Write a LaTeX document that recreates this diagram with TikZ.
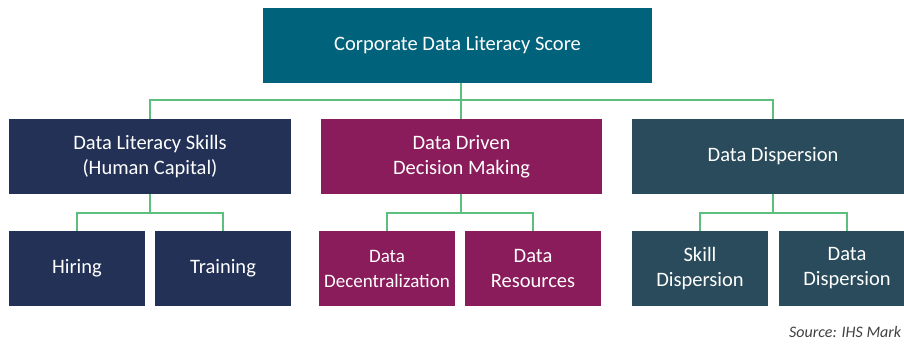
\documentclass[tikz,border=0pt]{standalone}
\usepackage{fontspec}
\setmainfont{Carlito}
\definecolor{topc}{HTML}{00627B}
\definecolor{navyc}{HTML}{233157}
\definecolor{magc}{HTML}{8A1C5B}
\definecolor{slatec}{HTML}{2A4B5B}
\definecolor{linec}{HTML}{5CBF7E}
\begin{document}
\begin{tikzpicture}[x=1pt,y=-1pt,
  box/.style={fill=#1, text=white, inner sep=0pt, align=center, font=\fontsize{20.5}{25}\selectfont},
  conn/.style={draw=linec, line width=1.3pt}]
\useasboundingbox (0,0) rectangle (904,343);
\clip (0,0) rectangle (904,343);
% top
\node[box=topc, minimum width=389pt, minimum height=75pt] (top) at (457.5,45) {Corporate Data Literacy Score};
% level 1
\node[box=navyc, minimum width=282pt, minimum height=75pt] (a) at (150,156.5) {Data Literacy Skills\\(Human Capital)};
\node[box=magc, minimum width=281pt, minimum height=75pt] (b) at (461.5,156.5) {Data Driven\\Decision Making};
\node[box=slatec, minimum width=282pt, minimum height=75pt] (c) at (773,156.5) {Data Dispersion};
% level 2
\node[box=navyc, minimum width=136pt, minimum height=75pt] (a1) at (77,268.5) {Hiring};
\node[box=navyc, minimum width=136pt, minimum height=75pt] (a2) at (223,268.5) {Training};
\node[box=magc, minimum width=136pt, minimum height=75pt, font=\fontsize{19}{25}\selectfont] (b1) at (387,268.5) {Data\\Decentralization};
\node[box=magc, minimum width=136pt, minimum height=75pt] (b2) at (533,268.5) {Data\\Resources};
\node[box=slatec, minimum width=136pt, minimum height=75pt] (c1) at (700,268.5) {Skill\\Dispersion};
\node[box=slatec, minimum width=136pt, minimum height=75pt] (c2) at (847,268.5) {Data\\Dispersion};
% connectors
\coordinate (j0) at (461,100);
\coordinate (ja) at (150,213);
\coordinate (jb) at (461,213);
\coordinate (jc) at (773,213);
\draw[conn] (top.south -| j0) -- (j0);
\draw[conn] (a.north) |- (j0) -| (c.north);
\draw[conn] (j0) -- (b.north -| j0);
\draw[conn] (a.south) -- (ja);
\draw[conn] (a1.north) |- (ja) -| (a2.north);
\draw[conn] (b.south -| jb) -- (jb);
\draw[conn] (b1.north) |- (jb) -| (b2.north);
\draw[conn] (c.south) -- (jc);
\draw[conn] (c1.north) |- (jc) -| (c2.north);
\node[anchor=west, inner sep=0pt, text=black!75, font=\fontsize{16}{18}\selectfont\itshape] (src) at (789,332) {Source: IHS Mark};
\end{tikzpicture}
\end{document}
